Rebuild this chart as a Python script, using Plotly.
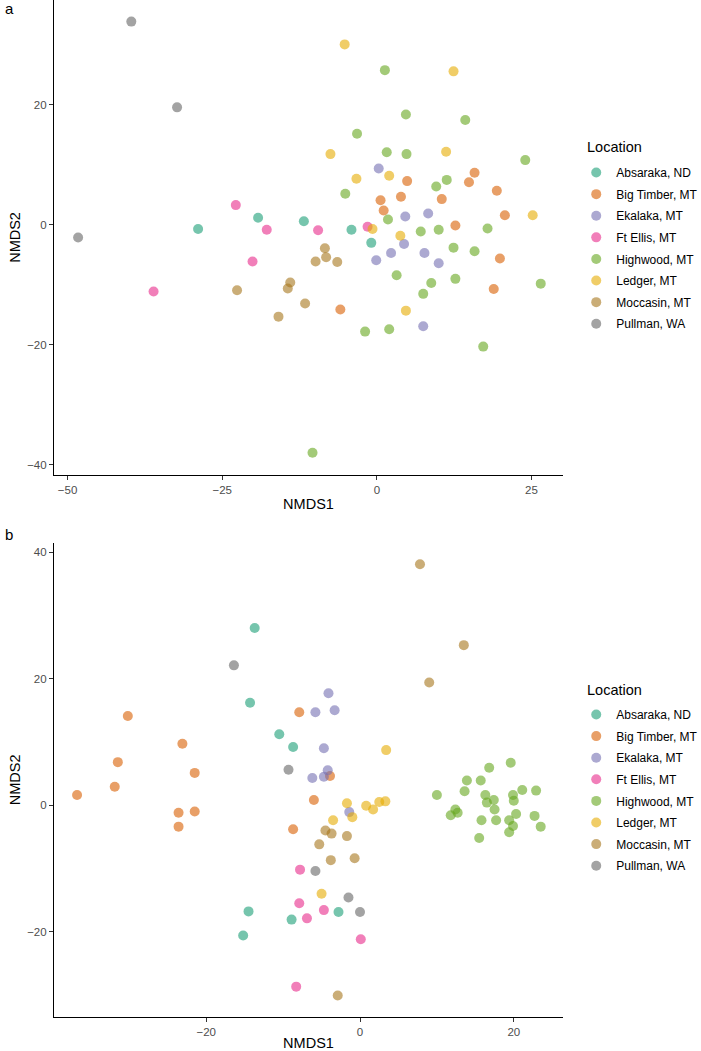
import plotly.graph_objects as go

locations = ["Absaraka, ND", "Big Timber, MT", "Ekalaka, MT", "Ft Ellis, MT",
             "Highwood, MT", "Ledger, MT", "Moccasin, MT", "Pullman, WA"]
codes = ["ABS", "BT", "EK", "FE", "HW", "LG", "MC", "PW"]
colors = ["#1B9E77", "#D95F02", "#7570B3", "#E7298A",
          "#66A61E", "#E6AB02", "#A6761D", "#666666"]

# panel a
a_site = (["ABS"] * 5 + ["BT"] * 13 + ["EK"] * 9 + ["FE"] * 6 +
          ["HW"] * 25 + ["LG"] * 10 + ["MC"] * 9 + ["PW"] * 3)
a_nmds1 = [-28.9, -19.2, -11.8, -4.1, -0.9,
           0.6, 3.9, 10.5, 1.1, 4.9, 15.8, 14.9, 19.4, 20.7, 12.7, 19.9, 18.9, -5.9,
           0.3, 4.6, 8.3, 4.4, 2.3, -0.1, 7.7, 10.0, 7.5,
           -22.8, -17.8, -9.5, -1.5, -20.1, -36.1,
           -5.1, -3.2, 1.6, 4.8, 24.0, 11.3, 9.6, 1.8, 17.9, 7.1, 10.0, 12.4, 15.8,
           3.2, 8.8, 12.7, 7.5, 26.5, -1.9, 2.0, 17.2, 1.3, 4.7, 14.3, -10.4,
           -5.2, -7.5, 11.2, -3.3, 2.0, 25.2, -0.7, 3.8, 4.7, 12.4,
           -8.4, -8.2, -9.9, -6.4, -22.6, -14.0, -14.4, -11.6, -15.9,
           -39.7, -32.3, -48.3]
a_nmds2 = [-0.7, 1.2, 0.6, -0.8, -3.0,
           4.1, 4.7, 4.3, 2.4, 7.3, 8.7, 7.1, 5.7, 1.6, -0.1, -5.6, -10.7, -14.1,
           9.4, 1.4, 1.9, -3.2, -4.7, -5.9, -4.7, -6.4, -16.9,
           3.3, -0.8, -0.9, -0.3, -6.1, -11.1,
           5.2, 15.2, 12.1, 11.8, 10.8, 7.5, 6.4, 0.9, -0.6, -1.1, -0.8, -3.8, -4.4,
           -8.4, -9.7, -9.0, -11.5, -9.8, -17.8, -17.4, -20.3, 25.8, 18.4, 17.5, -38.0,
           30.1, 11.8, 12.2, 7.7, 8.2, 1.6, -0.7, -1.8, -14.3, 25.6,
           -3.9, -5.4, -6.1, -6.2, -10.9, -9.6, -10.6, -13.1, -15.3,
           33.9, 19.6, -2.1]

# panel b
b_site = (["ABS"] * 8 + ["BT"] * 13 + ["EK"] * 8 + ["FE"] * 6 +
          ["HW"] * 26 + ["LG"] * 9 + ["MC"] * 10 + ["PW"] * 5)
b_nmds1 = [-13.7, -14.3, -10.5, -8.7, -14.5, -8.9, -2.8, -15.2,
           -7.9, -30.2, -23.1, -31.5, -21.5, -3.9, -36.8, -31.9, -6.0, -23.6, -21.5, -23.6, -8.7,
           -4.1, -5.8, -3.3, -4.7, -4.2, -6.2, -4.7, -1.4,
           -7.8, -7.9, -4.7, -6.9, -8.3, 0.1,
           13.9, 15.7, 10.0, 13.6, 16.3, 16.5, 17.4, 19.9, 21.1, 22.9, 20.0, 17.5, 11.8,
           12.4, 12.7, 15.8, 17.7, 19.4, 20.3, 22.7, 19.9, 23.5, 19.4, 15.5, 19.6, 16.8,
           -3.5, -5.0, -1.7, -1.0, 0.8, 1.7, 2.5, 3.3, 3.4,
           -4.5, -3.7, -5.3, -3.8, -2.9, -1.7, -0.7, 7.8, 13.5, 9.0,
           -16.4, -9.3, -5.8, -1.5, 0.0]
b_nmds2 = [28.0, 16.2, 11.2, 9.2, -16.8, -18.1, -16.9, -20.6,
           14.7, 14.1, 9.7, 6.8, 5.1, 4.6, 1.6, 2.9, 0.8, -1.2, -1.0, -3.4, -3.8,
           17.7, 14.7, 15.0, 9.0, 5.5, 4.3, 4.5, -1.1,
           -10.2, -15.5, -16.6, -17.9, -28.7, -21.2,
           3.9, 3.9, 1.6, 2.2, 1.6, 0.4, 0.8, 1.6, 2.4, 2.3, 0.7, -0.7, -1.6,
           -0.7, -1.2, -2.4, -2.4, -2.4, -1.4, -1.7, -3.3, -3.4, -4.3, -5.2, 6.7, 5.9,
           -2.4, -14.0, 0.3, -1.9, -0.1, -0.7, 0.5, 0.6, 8.7,
           -4.0, -4.5, -6.2, -8.7, -30.1, -4.9, -8.4, 38.1, 25.3, 19.4,
           22.1, 5.6, -10.4, -14.6, -16.9]

font = "Liberation Sans, Arial, sans-serif"
fig = go.Figure()

panels = [("x", "y", "legend", a_site, a_nmds1, a_nmds2),
          ("x2", "y2", "legend2", b_site, b_nmds1, b_nmds2)]
for xa, ya, leg, site, xs, ys in panels:
    for code, name, col in zip(codes, locations, colors):
        px = [x for s, x in zip(site, xs) if s == code]
        py = [y for s, y in zip(site, ys) if s == code]
        fig.add_trace(go.Scatter(
            x=px, y=py, mode="markers", name=name, xaxis=xa, yaxis=ya,
            legend=leg, legendgroup=leg + code,
            marker=dict(color=col, size=10, opacity=0.6, line=dict(width=0)),
        ))

axis_style = dict(showline=True, linecolor="black", linewidth=1.1,
                  ticks="outside", ticklen=4, tickcolor="#333333", tickwidth=1.1,
                  showgrid=False, zeroline=False, mirror=False,
                  tickfont=dict(family=font, size=11.5, color="#4D4D4D"))

legend_style = dict(font=dict(family=font, size=12, color="black"),
                    xanchor="left", yanchor="top", tracegroupgap=2.6,
                    bgcolor="rgba(0,0,0,0)", borderwidth=0)

def label(text, x, y, size):
    return dict(text=text, x=x, y=y, xref="paper", yref="paper",
                xanchor="left", yanchor="middle", showarrow=False,
                font=dict(family=font, size=size, color="black"))

fig.update_layout(
    width=701, height=1051,
    margin=dict(l=54, r=138, t=0, b=34, autoexpand=False),
    plot_bgcolor="white", paper_bgcolor="white",
    font=dict(family=font, color="black"),
    xaxis=dict(axis_style, range=[-52.2, 30.1], tickvals=[-50, -25, 0, 25],
               anchor="y", domain=[0, 1],
               title=dict(text="NMDS1", font=dict(size=14.5), standoff=4)),
    yaxis=dict(axis_style, range=[-41.7, 37.5], tickvals=[-40, -20, 0, 20],
               anchor="x", domain=[0.533, 1],
               title=dict(text="NMDS2", font=dict(size=14.5), standoff=3)),
    xaxis2=dict(axis_style, range=[-39.8, 26.4], tickvals=[-20, 0, 20],
                anchor="y2", domain=[0, 1],
                title=dict(text="NMDS1", font=dict(size=14.5), standoff=4)),
    yaxis2=dict(axis_style, range=[-33.5, 41.5], tickvals=[-20, 0, 20, 40],
                anchor="x2", domain=[0, 0.4664],
                title=dict(text="NMDS2", font=dict(size=14.5), standoff=3)),
    legend=dict(legend_style, x=1.026, y=0.8446),
    legend2=dict(legend_style, x=1.026, y=0.3117),
    annotations=[
        label("a", -0.1002, 1 - 8 / 1017, 15),
        label("b", -0.1002, 0.474, 15),
        label("Location", 1.0425, 1 - 147 / 1017, 14.5),
        label("Location", 1.0425, 1 - 690 / 1017, 14.5),
    ],
)

fig.write_html("out.html", config={"displayModeBar": False},
               post_script="document.body.style.margin='0';")
